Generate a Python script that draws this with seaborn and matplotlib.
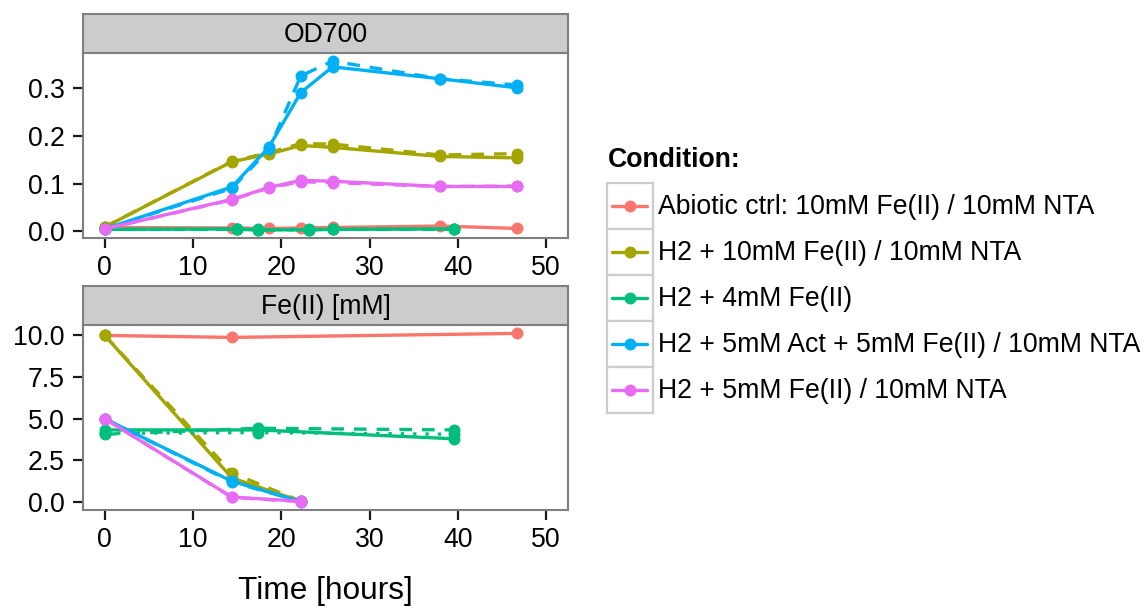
import numpy as np
import pandas as pd
import matplotlib
matplotlib.use("Agg")
import matplotlib.pyplot as plt
from matplotlib.lines import Line2D
from matplotlib.patches import Rectangle
from matplotlib.legend_handler import HandlerLine2D
import seaborn as sns

# ---------------- data ----------------
conditions = [
    "Abiotic ctrl: 10mM Fe(II) / 10mM NTA",
    "H2 + 10mM Fe(II) / 10mM NTA",
    "H2 + 4mM Fe(II)",
    "H2 + 5mM Act + 5mM Fe(II) / 10mM NTA",
    "H2 + 5mM Fe(II) / 10mM NTA",
]
colors = ["#F8766D", "#A3A500", "#00BF7D", "#00B0F6", "#E76BF3"]
facets = ["OD700", "Fe(II) [mM]"]
replicates = ["1", "2", "3"]

# OD700 sampling times
t_od_main = [0, 14.4, 18.6, 22.2, 25.8, 38.0, 46.7]
t_od_green = [0, 15.0, 17.4, 23.1, 25.8, 39.5]

od_abiotic_r1 = [0.008, 0.007, 0.006, 0.007, 0.008, 0.011, 0.006]
od_h2_10_r1 = [0.009, 0.146, 0.162, 0.180, 0.176, 0.157, 0.154]
od_h2_10_r2 = [0.009, 0.147, 0.165, 0.184, 0.183, 0.160, 0.163]
od_h2_4_r1 = [0.004, 0.005, 0.003, 0.003, 0.004, 0.005]
od_h2_4_r2 = [0.004, 0.004, 0.003, 0.004, 0.004, 0.004]
od_h2_4_r3 = [0.004, 0.004, 0.004, 0.003, 0.005, 0.005]
od_act_r1 = [0.005, 0.093, 0.177, 0.291, 0.345, 0.320, 0.301]
od_act_r2 = [0.005, 0.090, 0.172, 0.326, 0.357, 0.320, 0.307]
od_h2_5_r1 = [0.005, 0.067, 0.092, 0.107, 0.105, 0.094, 0.094]
od_h2_5_r2 = [0.005, 0.066, 0.091, 0.104, 0.102, 0.094, 0.095]

# Fe(II) sampling times
t_fe_main = [0, 14.4, 22.2]
t_fe_abiotic = [0, 14.4, 46.7]
t_fe_green = [0, 17.4, 39.5]

fe_abiotic_r1 = [10.0, 9.88, 10.12]
fe_h2_10_r1 = [10.0, 1.45, 0.05]
fe_h2_10_r2 = [10.0, 1.75, 0.05]
fe_h2_4_r1 = [4.33, 4.33, 3.80]
fe_h2_4_r2 = [4.07, 4.43, 4.33]
fe_h2_4_r3 = [4.13, 4.17, 4.07]
fe_act_r1 = [5.0, 1.25, 0.03]
fe_act_r2 = [5.0, 1.20, 0.05]
fe_h2_5_r1 = [5.0, 0.30, 0.05]
fe_h2_5_r2 = [5.0, 0.28, 0.03]

series = [
    # facet, condition index, replicate, times, values
    (facets[0], 0, "1", t_od_main, od_abiotic_r1),
    (facets[0], 1, "1", t_od_main, od_h2_10_r1),
    (facets[0], 1, "2", t_od_main, od_h2_10_r2),
    (facets[0], 2, "1", t_od_green, od_h2_4_r1),
    (facets[0], 2, "2", t_od_green, od_h2_4_r2),
    (facets[0], 2, "3", t_od_green, od_h2_4_r3),
    (facets[0], 3, "1", t_od_main, od_act_r1),
    (facets[0], 3, "2", t_od_main, od_act_r2),
    (facets[0], 4, "1", t_od_main, od_h2_5_r1),
    (facets[0], 4, "2", t_od_main, od_h2_5_r2),
    (facets[1], 0, "1", t_fe_abiotic, fe_abiotic_r1),
    (facets[1], 1, "1", t_fe_main, fe_h2_10_r1),
    (facets[1], 1, "2", t_fe_main, fe_h2_10_r2),
    (facets[1], 2, "1", t_fe_green, fe_h2_4_r1),
    (facets[1], 2, "2", t_fe_green, fe_h2_4_r2),
    (facets[1], 2, "3", t_fe_green, fe_h2_4_r3),
    (facets[1], 3, "1", t_fe_main, fe_act_r1),
    (facets[1], 3, "2", t_fe_main, fe_act_r2),
    (facets[1], 4, "1", t_fe_main, fe_h2_5_r1),
    (facets[1], 4, "2", t_fe_main, fe_h2_5_r2),
]

rows = []
for facet, ci, rep, ts, vs in series:
    for t, v in zip(ts, vs):
        rows.append({"facet": facet, "Condition": conditions[ci],
                     "Replicate": rep, "Time": t, "value": v})
df = pd.DataFrame(rows)

# ---------------- style ----------------
sns.set_theme(style="white")
plt.rcParams["font.family"] = ["Liberation Sans", "DejaVu Sans"]
plt.rcParams["text.color"] = "black"
plt.rcParams["axes.labelcolor"] = "black"

FS = 19.2
LW = 2.4
MS = 8.6
W, H = 1147, 608
fig = plt.figure(figsize=(W / 100, H / 100), dpi=100)
fig.patch.set_facecolor("white")

def fx(px):
    return px / W

def fy(py):
    return 1 - py / H

panel_left, panel_right = 82.7, 568.3
panels = [(52.7, 238.3, 14.0), (325.0, 510.0, 286.0)]  # (top, bottom, strip top)

palette = dict(zip(conditions, colors))
dashes = {"1": "", "2": (3.8, 3.0), "3": (1.0, 2.7)}
markers = {"1": "o", "2": "o", "3": "o"}
border = "#7F7F7F"

axes = []
for facet, (ptop, pbot, stop) in zip(facets, panels):
    ax = fig.add_axes([fx(panel_left), fy(pbot), fx(panel_right - panel_left),
                       (pbot - ptop) / H])
    sub = df[df["facet"] == facet]
    sns.lineplot(data=sub, x="Time", y="value", hue="Condition",
                 hue_order=conditions, palette=palette, style="Replicate",
                 style_order=replicates, dashes=dashes, markers=markers,
                 estimator=None, sort=True, legend=False, ax=ax,
                 linewidth=LW, markersize=MS, markeredgewidth=0)
    lo, hi = sub["value"].min(), sub["value"].max()
    pad = 0.05 * (hi - lo)
    ax.set_ylim(lo - pad, hi + pad)
    ax.set_xlim(-2.5, 52.5)
    ax.set_xticks([0, 10, 20, 30, 40, 50])
    if facet == "OD700":
        ax.set_yticks([0.0, 0.1, 0.2, 0.3])
        ax.set_yticklabels(["0.0", "0.1", "0.2", "0.3"])
    else:
        ax.set_yticks([0.0, 2.5, 5.0, 7.5, 10.0])
        ax.set_yticklabels(["0.0", "2.5", "5.0", "7.5", "10.0"])
    ax.set_xlabel("")
    ax.set_ylabel("")
    ax.set_facecolor("white")
    ax.grid(False)
    for s in ax.spines.values():
        s.set_color(border)
        s.set_linewidth(1.5)
    ax.tick_params(axis="both", which="major", direction="out", length=7.5,
                   width=1.6, color="#1a1a1a", labelsize=FS, labelcolor="black",
                   bottom=True, left=True, top=False, right=False)
    ax.tick_params(axis="y", pad=5.5)
    ax.tick_params(axis="x", pad=4.5)
    ax.set_xticks([], minor=True)
    ax.set_yticks([], minor=True)

    # facet strip
    sax = fig.add_axes([fx(panel_left), fy(ptop), fx(panel_right - panel_left),
                        (ptop - stop) / H])
    sax.set_facecolor("#CCCCCC")
    sax.set_xticks([])
    sax.set_yticks([])
    for s in sax.spines.values():
        s.set_color(border)
        s.set_linewidth(1.5)
    sax.text(0.5, 0.47, facet, ha="center", va="center", fontsize=FS,
             color="black", transform=sax.transAxes)
    axes.append(ax)

axes[1].set_xlabel("Time [hours]", fontsize=22.8, labelpad=17, color="black")

# ---------------- legend with boxed keys ----------------
class BoxedHandler(HandlerLine2D):
    def create_artists(self, legend, orig_handle, xdescent, ydescent,
                       width, height, fontsize, trans):
        rect = Rectangle((-xdescent, -ydescent), width, height,
                         facecolor="white", edgecolor="#CCCCCC",
                         linewidth=1.6, transform=trans)
        inset = 0.11 * width
        yc = -ydescent + height / 2
        line = Line2D([-xdescent + inset, -xdescent + width - inset], [yc, yc],
                      color=orig_handle.get_color(), linewidth=LW,
                      transform=trans)
        dot = Line2D([-xdescent + width / 2], [yc], marker="o",
                     markersize=MS, markeredgewidth=0, linestyle="none",
                     color=orig_handle.get_color(), transform=trans)
        return [rect, line, dot]

handles = [Line2D([], [], color=c, marker="o") for c in colors]
fs_px = FS * 100 / 72
key = 46.0
hl = key / fs_px
hh = (key / fs_px - 0.245) / 0.65
leg = fig.legend(handles, conditions, loc="upper left",
                 bbox_to_anchor=(fx(606.5), fy(183.0)), frameon=False,
                 borderpad=0, borderaxespad=0, labelspacing=0,
                 handlelength=hl, handleheight=hh, handletextpad=6.0 / fs_px,
                 fontsize=FS, handler_map={Line2D: BoxedHandler()})
for t in leg.get_texts():
    t.set_color("black")
fig.text(fx(608), fy(160), "Condition:", fontsize=FS, fontweight="bold",
         ha="left", va="center", color="black")

fig.savefig("out.png", dpi=100, facecolor="white")
